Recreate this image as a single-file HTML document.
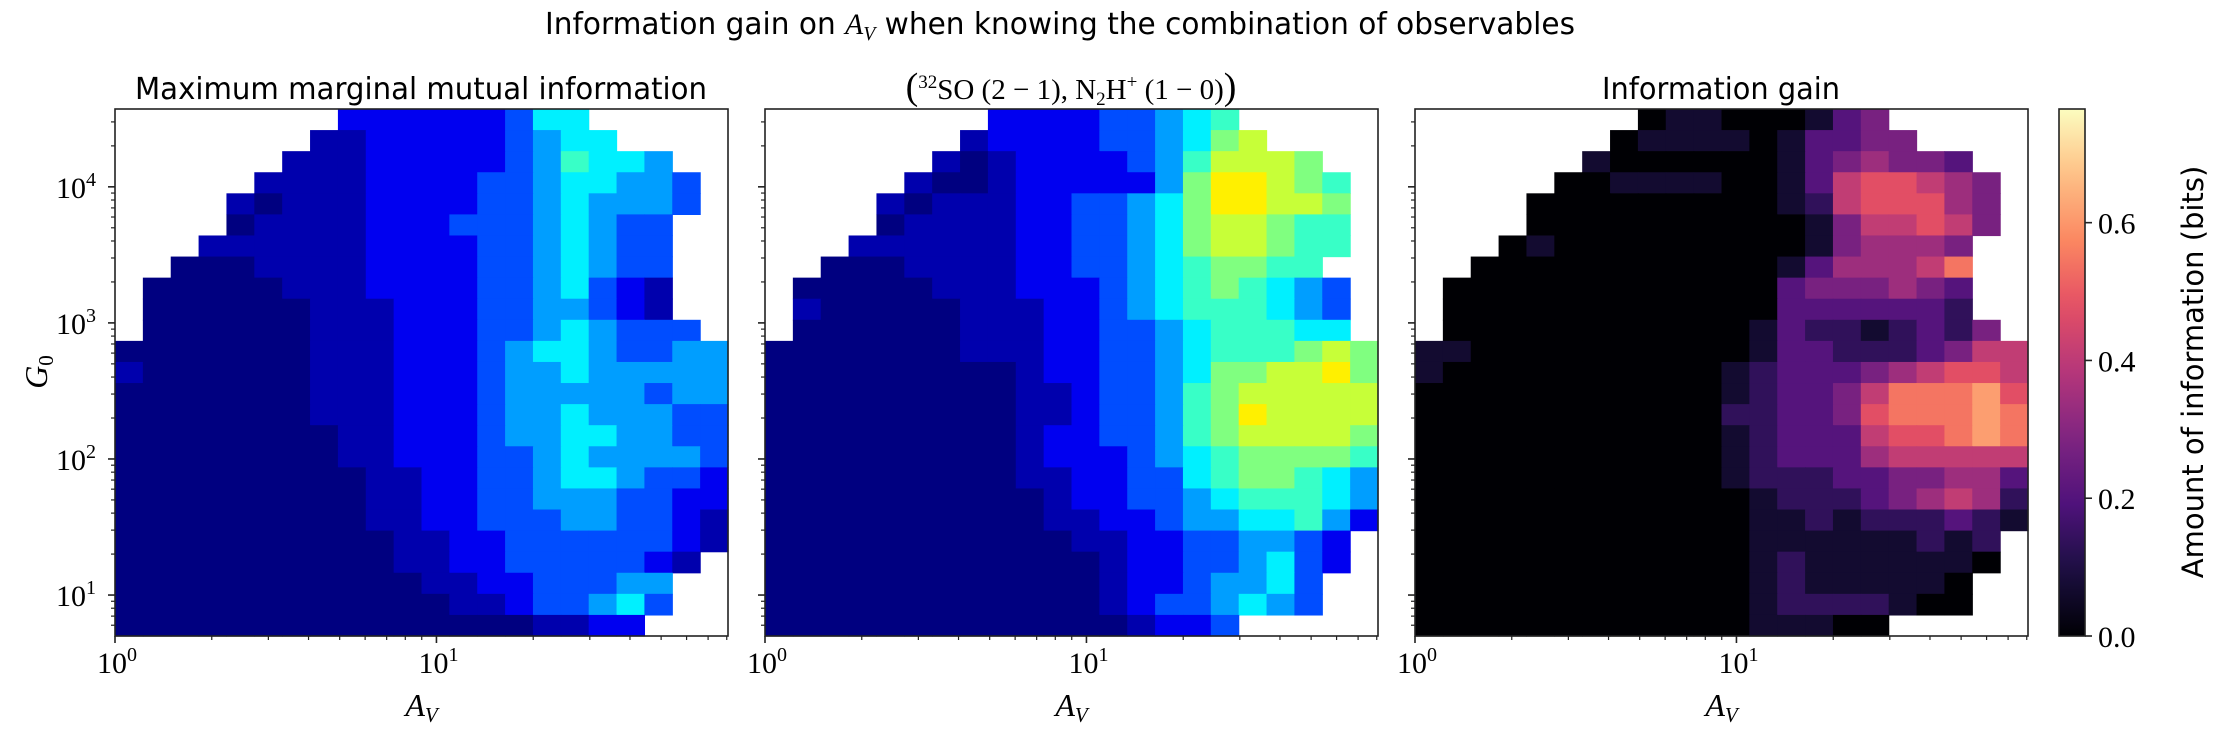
<!DOCTYPE html>
<html><head><meta charset="utf-8">
<style>
html,body{margin:0;padding:0;background:#fff;}
svg{display:block;}
.sans{font-family:"DejaVu Sans","Liberation Sans",sans-serif;}
.serif{font-family:"Liberation Serif","DejaVu Serif",serif;}
</style></head>
<body>
<svg id="fig" width="2224" height="737" viewBox="0 0 2224 737" xmlns="http://www.w3.org/2000/svg">
<text class="sans" x="1060" y="34" font-size="30" text-anchor="middle" textLength="1030" lengthAdjust="spacingAndGlyphs">Information gain on <tspan class="serif" font-style="italic">A</tspan><tspan class="serif" font-style="italic" font-size="20" dy="6">V</tspan><tspan dy="-6"> when knowing the combination of observables</tspan></text>
<text class="sans" x="421" y="99" font-size="30" text-anchor="middle" textLength="572" lengthAdjust="spacingAndGlyphs">Maximum marginal mutual information</text>
<text class="serif" x="1071" y="99" font-size="29" text-anchor="middle"><tspan font-size="38">(</tspan><tspan font-size="19" dy="-11">32</tspan><tspan dy="11">SO (2 − 1), N</tspan><tspan font-size="19" dy="6">2</tspan><tspan dy="-6">H</tspan><tspan font-size="19" dy="-11">+</tspan><tspan dy="11"> (1 − 0)</tspan><tspan font-size="38">)</tspan></text>
<text class="sans" x="1721" y="99" font-size="30" text-anchor="middle" textLength="238" lengthAdjust="spacingAndGlyphs">Information gain</text>
<text class="serif" font-style="italic" font-size="32" text-anchor="middle" transform="translate(47,372) rotate(-90)">G<tspan font-style="normal" font-size="21" dy="6">0</tspan></text>
<text class="sans" font-size="29" text-anchor="middle" transform="translate(2203,372) rotate(-90)">Amount of information (bits)</text>
<g id="layer"></g>
</svg>
<script>
// ---- data (grid of 22 log-spaced A_V bins x 25 log-spaced G0 bins, top row = highest G0) ----
const avLogMin = 0, avLogMax = 1.907;       // log10(A_V) axis range
const g0LogMin = 0.699, g0LogMax = 4.572;   // log10(G0) axis range
const xTickValues = [1, 10];
const xTickExps = ["0", "1"];
const yTickValues = [10, 100, 1000, 10000];
const yTickExps = ["1", "2", "3", "4"];
const cbarTicks = [0.0, 0.2, 0.4, 0.6];
const cbarTickLabels = ["0.0", "0.2", "0.4", "0.6"];
const cbarMax = 0.765;
// digit levels ('.' = no data)
const mmiRows = [
"........222222355.....",
".......11222223455....",
"......11122222346554..",
".....1111222233455443.",
"....10111222233454443.",
"....0111122233345433..",
"...11111122223345433..",
"..000111122223345433..",
".0000011122223345321..",
".0000001112223344321..",
".00000011122233454333.",
"0000000111222345543344",
"1000000111222344544444",
"0000000111222344444344",
"0000000111222344544433",
"0000000011222344554433",
"0000000011222334544443",
"0000000001122334554332",
"0000000001122334443322",
"0000000001122333443321",
"0000000000112233333321.",
"000000000011223333321.",
"00000000000112233344..",
"00000000000011233453..",
"0000000000000001122....."
];
const pairRows = [
"........222233456.....",
".......12222334578....",
"......10122223468887..",
".....1001222224799876.",
"....10111223345799887.",
"....01111223345788766.",
"...111111223345788766.",
"..000111122334567766..",
".00000111222345676543.",
".10000011122345666543.",
".00000011122334566655.",
"0000000111223345666787",
"0000000001223345778897",
"0000000001123346788888",
"0000000001123346798888",
"0000000001223346788887",
"0000000001222345677776",
"0000000001122335677654",
"0000000000122334566654",
"0000000000112234455642",
"000000000001122334432.",
"000000000000122334532.",
"00000000000012234453..",
"00000000000012334543..",
"00000000000001223....."
];
const gainRows = [
"........011000134.....",
".......01111013344....",
"......10000001345443..",
".....0011110013677654.",
"....00000000012677754.",
"....00000000001466764.",
"...01000000000145554..",
"..000000000001355568..",
".0000000000003444543..",
".0000000000003333332..",
".00000000000132212324.",
"1100000000001332223466",
"1000000000012333456776",
"0000000000012334688897",
"0000000000022334788898",
"0000000000012333677898",
"0000000000012333566666",
"0000000000012223344553",
"0000000000001222345652",
"0000000000001121222321",
"000000000000111111212.",
"000000000000121111110.",
"00000000000012111110..",
"00000000000012222100..",
"00000000000011100....."
];
// normalized jet position for each level 0..9
const jetLevels = [0.0, 0.045, 0.11, 0.2, 0.28, 0.36, 0.43, 0.5, 0.57, 0.64];
const gainLevelStep = 0.068;  // bits per level

// ---- layout ----
const panels = [
  {name:"panel-1", rows:mmiRows, cmap:"jet", x0:115, yLabels:true},
  {name:"panel-2", rows:pairRows, cmap:"jet", x0:765, yLabels:false},
  {name:"panel-3", rows:gainRows, cmap:"magma", x0:1415, yLabels:false}
];
const PW = 613, PT = 109, PB = 636;
const NS = "http://www.w3.org/2000/svg";
const layer = document.getElementById('layer');

function clip(v){return Math.max(0, Math.min(1, v));}
function jet(t){
  const r = clip(1.5 - Math.abs(4*t - 3)), g = clip(1.5 - Math.abs(4*t - 2)), b = clip(1.5 - Math.abs(4*t - 1));
  return `rgb(${Math.round(r*255)},${Math.round(g*255)},${Math.round(b*255)})`;
}
const magStops = [[0,0,0,4],[0.13,28,16,68],[0.25,79,18,123],[0.38,129,37,129],[0.5,181,54,122],[0.63,229,80,100],[0.75,251,135,97],[0.88,254,194,135],[1,252,253,191]];
function magma(t){
  t = clip(t);
  for (let i = 1; i < magStops.length; i++) {
    if (t <= magStops[i][0]) {
      const a = magStops[i-1], b = magStops[i], f = (t - a[0]) / (b[0] - a[0]);
      return `rgb(${Math.round(a[1]+f*(b[1]-a[1]))},${Math.round(a[2]+f*(b[2]-a[2]))},${Math.round(a[3]+f*(b[3]-a[3]))})`;
    }
  }
  return 'rgb(252,253,191)';
}
function mk(tag, attrs){ const e = document.createElementNS(NS, tag); for (const k in attrs) e.setAttribute(k, attrs[k]); return e; }
function xScale(x0, logv){ return x0 + (logv - avLogMin) / (avLogMax - avLogMin) * PW; }
function yScale(logv){ return PB - (logv - g0LogMin) / (g0LogMax - g0LogMin) * (PB - PT); }
function cScale(v){ return PB - v / cbarMax * (PB - PT); }

panels.forEach(p => {
  const g = mk('g', {});
  
  
  layer.appendChild(g);
  const nR = p.rows.length;
  const dyl = (g0LogMax - g0LogMin) / nR;
  p.rows.forEach((row, i) => {
    const nC = 22;
    const dxl = (avLogMax - avLogMin) / nC;
    for (let j = 0; j < nC; j++) {
      const ch = row[j];
      if (ch === undefined || ch === '.') continue;
      const lvl = parseInt(ch, 10);
      const fill = p.cmap === 'jet' ? jet(jetLevels[lvl]) : magma(lvl * gainLevelStep / cbarMax);
      const xa = xScale(p.x0, avLogMin + j*dxl), xb = xScale(p.x0, avLogMin + (j+1)*dxl);
      const ya = yScale(g0LogMax - i*dyl), yb = yScale(g0LogMax - (i+1)*dyl);
      const r = mk('rect', {x: xa.toFixed(2), y: ya.toFixed(2), width: (xb-xa+0.6).toFixed(2), height: (yb-ya+0.6).toFixed(2), fill: fill});
      
      
      g.appendChild(r);
    }
  });
  const fr = mk('rect', {x: p.x0, y: PT, width: PW, height: PB-PT, fill: 'none', stroke: '#222', 'stroke-width': 1.6});
  
  
  layer.appendChild(fr);
  for (let dec = 0; dec <= 1; dec++) {
    for (let m = 1; m <= 9; m++) {
      const lv = dec + Math.log10(m);
      if (lv > avLogMax) continue;
      const x = xScale(p.x0, lv);
      const len = m === 1 ? 7 : 4;
      const t = mk('line', {x1: x, x2: x, y1: PB, y2: PB+len, stroke: '#222', 'stroke-width': m===1?1.6:1.2});
      
      
      layer.appendChild(t);
    }
  }
  xTickValues.forEach((v, k) => {
    const x = xScale(p.x0, Math.log10(v));
    const tx = mk('text', {x: x+2, y: 673, 'font-size': 30, 'text-anchor': 'middle', class: 'serif'});
    tx.innerHTML = '10<tspan font-size="20" dy="-12">' + xTickExps[k] + '</tspan>';
    
    
    layer.appendChild(tx);
  });
  const xl = mk('text', {x: p.x0 + PW/2, y: 716, 'font-size': 32, 'text-anchor': 'middle', class: 'serif', 'font-style': 'italic'});
  xl.innerHTML = 'A<tspan font-size="21" dy="6">V</tspan>';
  
  
  layer.appendChild(xl);
  for (let dec = 0; dec <= 4; dec++) {
    for (let m = 1; m <= 9; m++) {
      const lv = dec + Math.log10(m);
      if (lv < g0LogMin || lv > g0LogMax) continue;
      const y = yScale(lv);
      const len = m === 1 ? 7 : 4;
      const t = mk('line', {x1: p.x0-len, x2: p.x0, y1: y, y2: y, stroke: '#222', 'stroke-width': m===1?1.6:1.2});
      
      
      layer.appendChild(t);
    }
  }
  if (p.yLabels) {
    yTickValues.forEach((v, k) => {
      const y = yScale(Math.log10(v));
      const tx = mk('text', {x: 96, y: y+11, 'font-size': 30, 'text-anchor': 'end', class: 'serif'});
      tx.innerHTML = '10<tspan font-size="20" dy="-12">' + yTickExps[k] + '</tspan>';
      
      
      layer.appendChild(tx);
    });
  }
});

const CX = 2059, CW = 26;
const defs = mk('defs', {});
const grad = mk('linearGradient', {id: 'mag', x1: 0, y1: 1, x2: 0, y2: 0});
for (let i = 0; i <= 20; i++) {
  const s = mk('stop', {offset: (i/20).toFixed(2), 'stop-color': magma(i/20)});
  grad.appendChild(s);
}
defs.appendChild(grad);
layer.appendChild(defs);
const cb = mk('rect', {x: CX, y: PT, width: CW, height: PB-PT, fill: 'url(#mag)', stroke: '#222', 'stroke-width': 1.6});


layer.appendChild(cb);
cbarTicks.forEach((v, k) => {
  const y = cScale(v);
  const t = mk('line', {x1: CX+CW, x2: CX+CW+7, y1: y, y2: y, stroke: '#222', 'stroke-width': 1.6});
  
  
  layer.appendChild(t);
  const tx = mk('text', {x: CX+CW+13, y: y+11, 'font-size': 30, class: 'serif'});
  tx.textContent = cbarTickLabels[k];
  
  
  layer.appendChild(tx);
});
</script>
</body></html>
